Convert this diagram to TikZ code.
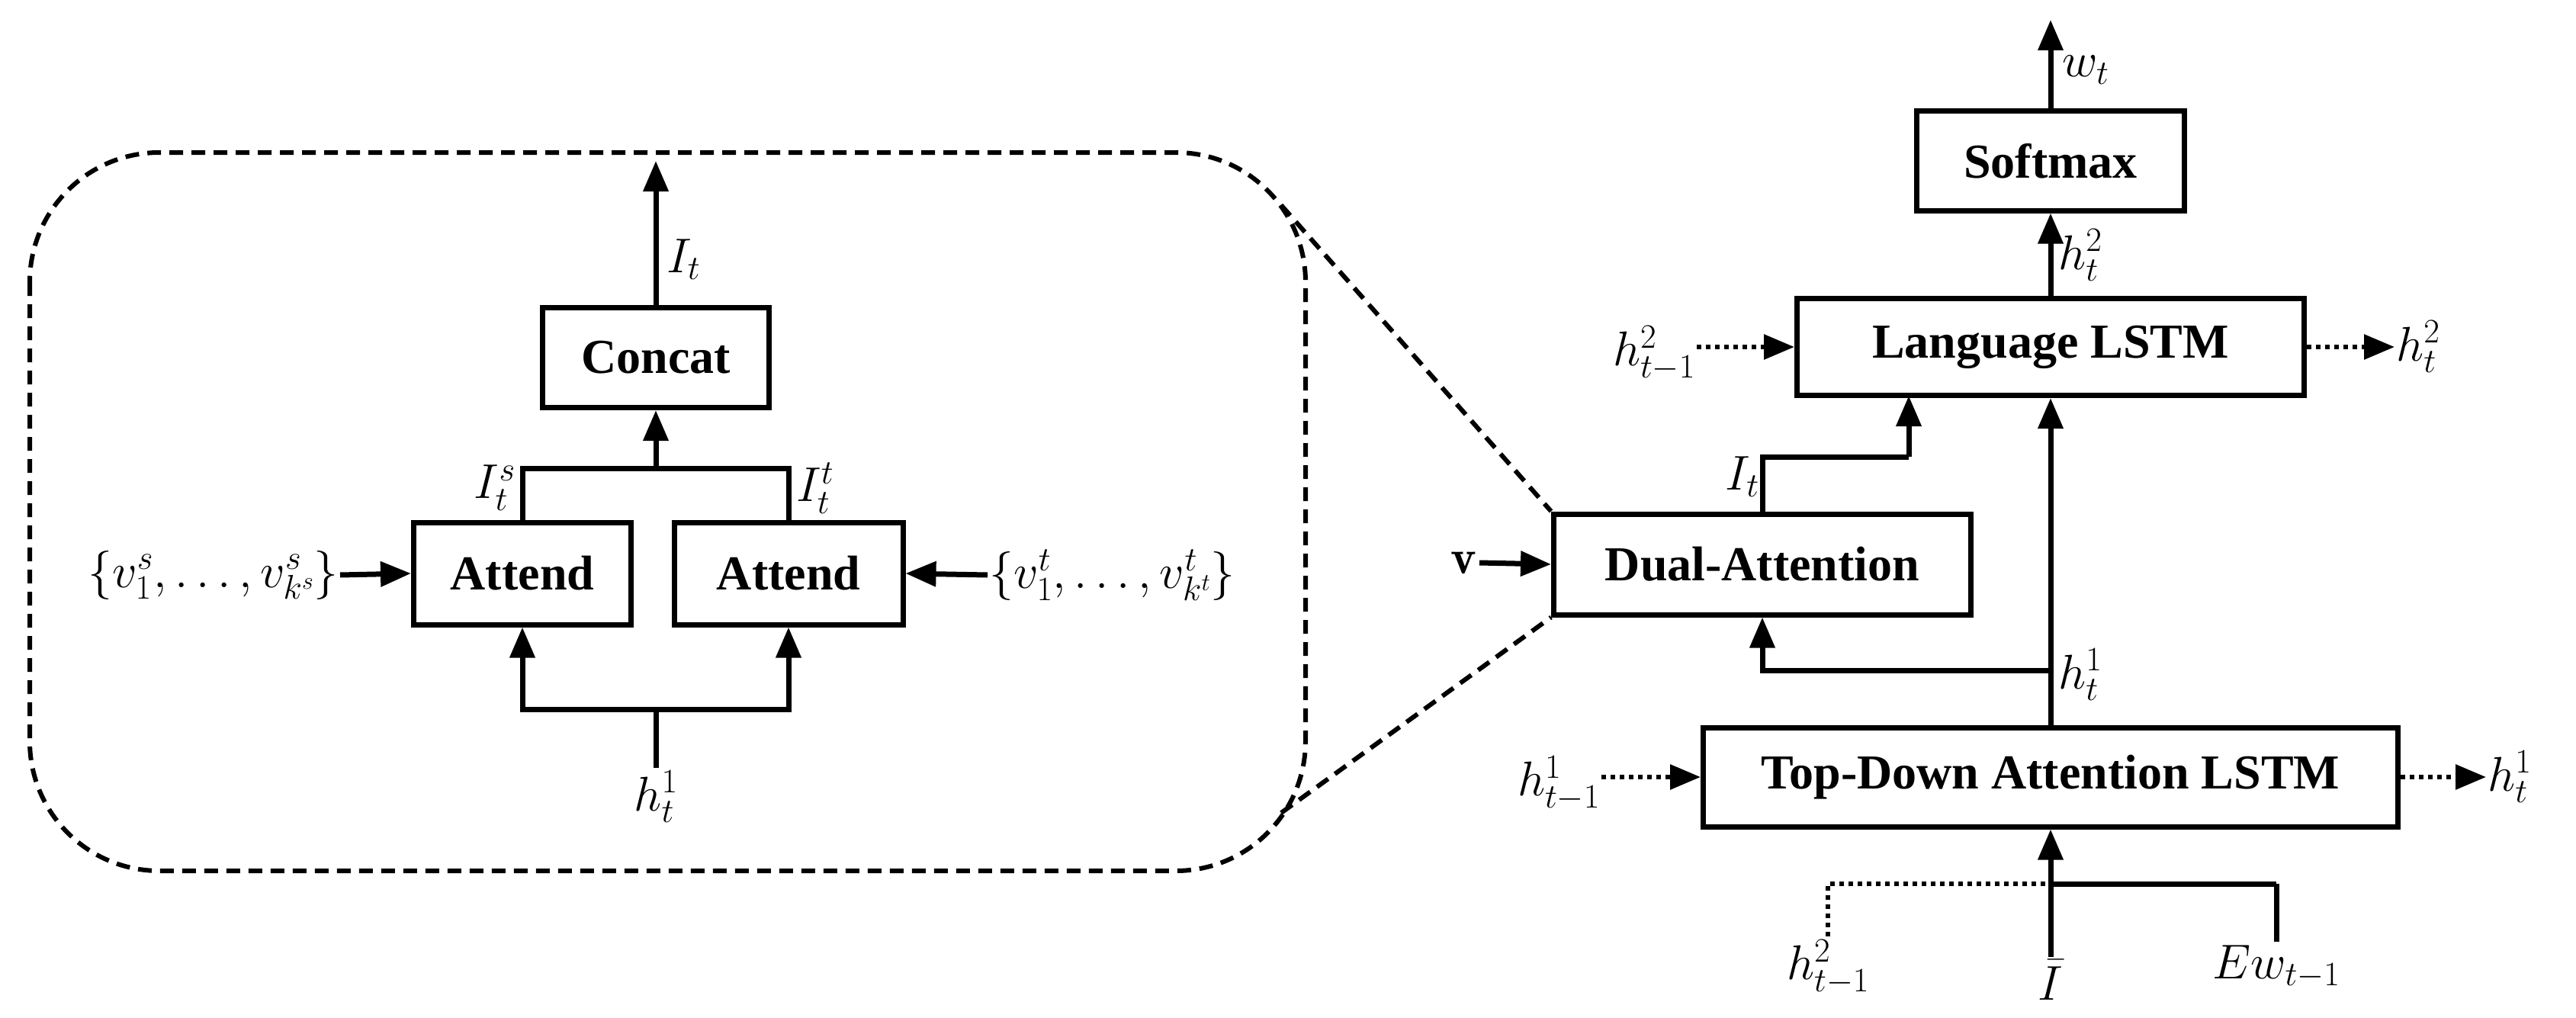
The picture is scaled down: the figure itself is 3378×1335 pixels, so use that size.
\RequirePackage{fix-cm}
\documentclass[tikz,border=0pt]{standalone}
\usepackage{fontspec}
\newfontfamily\boxfont{Liberation Serif}
\usetikzlibrary{arrows.meta}
\begin{document}
\begin{tikzpicture}[x=1pt,y=-1pt,
  box/.style={draw,line width=7pt,inner sep=0pt,font=\boxfont\bfseries\fontsize{64}{70}\selectfont},
  lbl/.style={inner sep=4pt,font=\fontsize{64}{70}\selectfont},
  ln/.style={line width=7pt},
  ar/.style={line width=7pt,-{Triangle[length=40pt,width=32pt]}},
  dt/.style={line width=6pt,dash pattern=on 6pt off 6pt},
  dar/.style={dt,-{Triangle[length=40pt,width=32pt]}},
  dsh/.style={line width=6pt,dash pattern=on 18pt off 11pt}]
\useasboundingbox (0,0) rectangle (3378,1335);
% zoom box
\draw[dsh,rounded corners=170pt] (39,200) rectangle (1712,1142);
\node[box,minimum width=297pt,minimum height=131pt] (concat) at (860,469) {Concat};
\node[box,minimum width=285pt,minimum height=134pt] (att1) at (685,752) {Attend};
\node[box,minimum width=300pt,minimum height=134pt] (att2) at (1034,752) {Attend};
\coordinate (top) at (860,211);
\draw[ar] (concat.north) -- (top);
\node[lbl,anchor=west] (it1) at (870,340) {$I_t$};
\coordinate (bus) at (860,614);
\draw[ln] (att1.north) |- (bus) -| (att2.north);
\draw[ar] (bus) -- (concat.south);
\node[lbl,anchor=east] (its) at (680,640) {$I_t^s$};
\node[lbl,anchor=west] (itt) at (1040,640) {$I_t^t$};
\node[lbl,anchor=east,inner sep=2pt] (vs) at (446,754) {$\{v_1^s,\ldots,v_{k^s}^s\}$};
\node[lbl,anchor=west,inner sep=2pt] (vt) at (1295,754) {$\{v_1^t,\ldots,v_{k^t}^t\}$};
\draw[ar] (vs.east) -- (att1.west);
\draw[ar] (vt.west) -- (att2.east);
\node[lbl] (hb) at (860,1045) {$h_t^1$};
\coordinate (bb) at (860,930);
\draw[ln] (hb.north) -- (bb);
\draw[ar] (bb) -| (att1.south);
\draw[ar] (bb) -| (att2.south);
% right
\node[box,minimum width=351pt,minimum height=130pt] (soft) at (2689,211) {Softmax};
\node[box,minimum width=665pt,minimum height=127pt] (lang) at (2689,455) {Language LSTM};
\node[box,minimum width=547pt,minimum height=132pt] (dual) at (2311,740) {Dual-Attention};
\node[box,minimum width=911pt,minimum height=130pt] (td) at (2689,1019) {Top-Down Attention LSTM};
\coordinate (wt) at (2689,26);
\draw[ar] (soft.north) -- (wt);
\node[lbl,anchor=west] (wl) at (2700,92) {$w_t$};
\draw[ar] (lang.north) -- (soft.south);
\node[lbl,anchor=west] (h2l) at (2695,335) {$h_t^2$};
\draw[ar] (td.north) -- (lang.south);
\node[lbl,anchor=west] (h1l) at (2695,885) {$h_t^1$};
\coordinate (br) at (2689,879);
\draw[ar] (br) -| (dual.south);
\coordinate (ib) at (2503,599);
\draw[ln] (dual.north) |- (ib);
\draw[ar] (ib) -- (2503,519);
\node[lbl,anchor=east] (itr) at (2311,625) {$I_t$};
\node[lbl,anchor=east] (v) at (1940,738) {$\mathbf{v}$};
\draw[ar] (v.east) -- (dual.west);
\node[lbl,anchor=east,inner sep=2pt] (l2in) at (2225,463) {$h_{t-1}^2$};
\draw[dar] (l2in.east|-lang.west) -- (lang.west);
\node[lbl,anchor=west,inner sep=2pt] (l2out) at (3140,455) {$h_t^2$};
\draw[dar] (lang.east) -- (l2out.west|-lang.east);
\node[lbl,anchor=east,inner sep=2pt] (l1in) at (2100,1027) {$h_{t-1}^1$};
\draw[dar] (l1in.east|-td.west) -- (td.west);
\node[lbl,anchor=west,inner sep=2pt] (l1out) at (3260,1019) {$h_t^1$};
\draw[dar] (td.east) -- (l1out.west|-td.east);
% bottom inputs
\coordinate (j) at (2689,1159);
\draw[ar] (j) -- (td.south);
\node[lbl] (ib2) at (2689,1285) {$\bar{I}$};
\draw[ln] (ib2.north) -- (j) -- (2985,1159) coordinate (je);
\node[lbl] (ew) at (2985,1268) {$Ew_{t-1}$};
\draw[ln] (je) -- (ew.north);
\node[lbl] (h2b) at (2397,1268) {$h_{t-1}^2$};
\draw[dt] (h2b.north) |- (j);
% zoom lines
\draw[dsh] (1680,269) -- (dual.north west);
\draw[dsh] (1680,1066) -- (dual.south west);
\end{tikzpicture}
\end{document}
